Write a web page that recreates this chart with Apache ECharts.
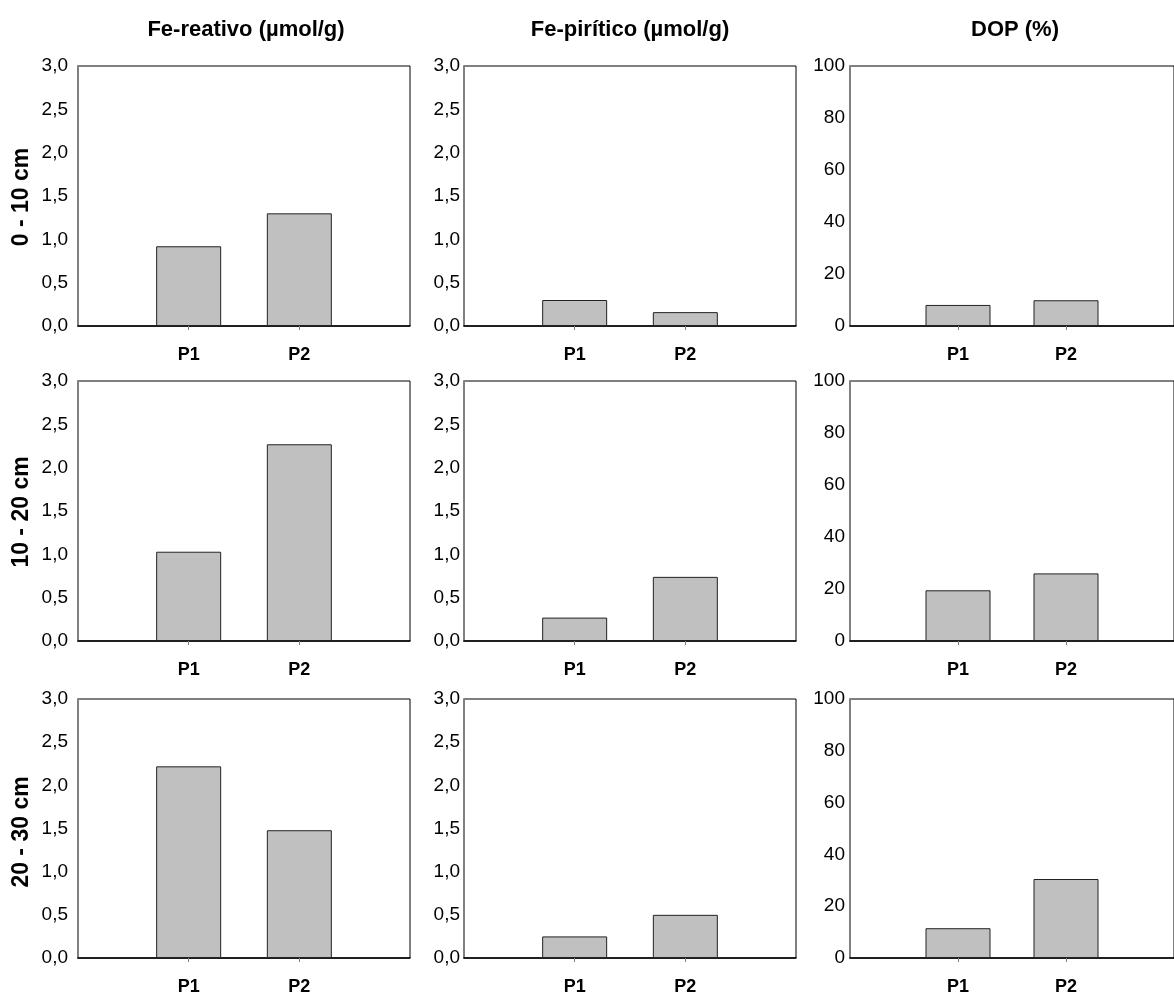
<!DOCTYPE html>
<html>
<head>
<meta charset="utf-8">
<script src="https://cdn.jsdelivr.net/npm/echarts@6/dist/echarts.min.js"></script>
<style>
html,body{margin:0;padding:0;background:#fff;}
#chart{width:1174px;height:996px;}
</style>
</head>
<body>
<div id="chart"></div>
<script>
// ---- data ----
const categories = ['', 'P1', 'P2', ''];
const columnTitles = ['Fe-reativo (µmol/g)', 'Fe-pirítico (µmol/g)', 'DOP (%)'];
const rowTitles = ['0 - 10 cm', '10 - 20 cm', '20 - 30 cm'];

const feReativo_0_10 = [0.92, 1.30];
const feReativo_10_20 = [1.03, 2.27];
const feReativo_20_30 = [2.22, 1.48];

const fePiritico_0_10 = [0.30, 0.16];
const fePiritico_10_20 = [0.27, 0.74];
const fePiritico_20_30 = [0.25, 0.50];

const dop_0_10 = [8.1, 9.9];
const dop_10_20 = [19.5, 26.0];
const dop_20_30 = [11.5, 30.5];

const feAxis = {min: 0, max: 3, interval: 0.5};
const dopAxis = {min: 0, max: 100, interval: 20};

// ---- layout ----
const colLeft = [78, 464, 850];
const colWidth = 332;
const rowTop = [66, 381, 699];
const rowHeight = 260;
const labelMargin = [10, 4, 5];
const FONT = '"Liberation Sans", Arial, sans-serif';

const panels = [
  [feReativo_0_10, fePiritico_0_10, dop_0_10],
  [feReativo_10_20, fePiritico_10_20, dop_10_20],
  [feReativo_20_30, fePiritico_20_30, dop_20_30]
];

const grids = [], xAxes = [], yAxes = [], series = [];
let idx = 0;
for (let r = 0; r < 3; r++) {
  for (let c = 0; c < 3; c++) {
    const vals = panels[r][c];
    const ax = c === 2 ? dopAxis : feAxis;
    grids.push({
      left: colLeft[c], top: rowTop[r], width: colWidth, height: rowHeight,
      show: true, borderColor: '#000', borderWidth: 1, backgroundColor: '#fff'
    });
    xAxes.push({
      gridIndex: idx, type: 'category', data: categories, boundaryGap: false,
      axisLine: {show: true, lineStyle: {color: '#000', width: 1.5}},
      axisTick: {show: true, length: 4, interval: (i, v) => v !== '', lineStyle: {color: '#808080'}},
      axisLabel: {interval: (i, v) => v !== '', color: '#000', fontWeight: 'bold', fontSize: 18, fontFamily: FONT, margin: 20},
      splitLine: {show: false}
    });
    yAxes.push({
      gridIndex: idx, type: 'value', min: ax.min, max: ax.max, interval: ax.interval,
      axisLine: {show: true, lineStyle: {color: '#808080', width: 2}},
      axisTick: {show: false},
      splitLine: {show: false},
      axisLabel: {
        color: '#000', fontSize: 19, fontFamily: FONT, margin: labelMargin[c],
        formatter: v => c === 2 ? String(v) : v.toFixed(1).replace('.', ',')
      }
    });
    series.push({
      type: 'bar', xAxisIndex: idx, yAxisIndex: idx,
      data: ['-', vals[0], vals[1], '-'],
      barWidth: 65,
      itemStyle: {color: '#c0c0c0', borderColor: '#222', borderWidth: 1},
      silent: true
    });
    idx++;
  }
}

const colCenters = [246, 630, 1015];
const rowCenters = [197, 512, 832];
const graphics = [];
columnTitles.forEach((t, i) => graphics.push({
  type: 'text', x: colCenters[i], y: 30,
  style: {text: t, fill: '#000', font: 'bold 22px ' + FONT, textAlign: 'center', textVerticalAlign: 'middle'}
}));
rowTitles.forEach((t, i) => graphics.push({
  type: 'text', x: 22, y: rowCenters[i], rotation: Math.PI / 2,
  style: {text: t, fill: '#000', font: 'bold 23px ' + FONT, textAlign: 'center', textVerticalAlign: 'middle'}
}));

const chart = echarts.init(document.getElementById('chart'), null, {renderer: 'canvas'});
chart.setOption({
  backgroundColor: '#fff',
  animation: false,
  grid: grids,
  xAxis: xAxes,
  yAxis: yAxes,
  series: series,
  graphic: graphics
});
</script>
</body>
</html>
